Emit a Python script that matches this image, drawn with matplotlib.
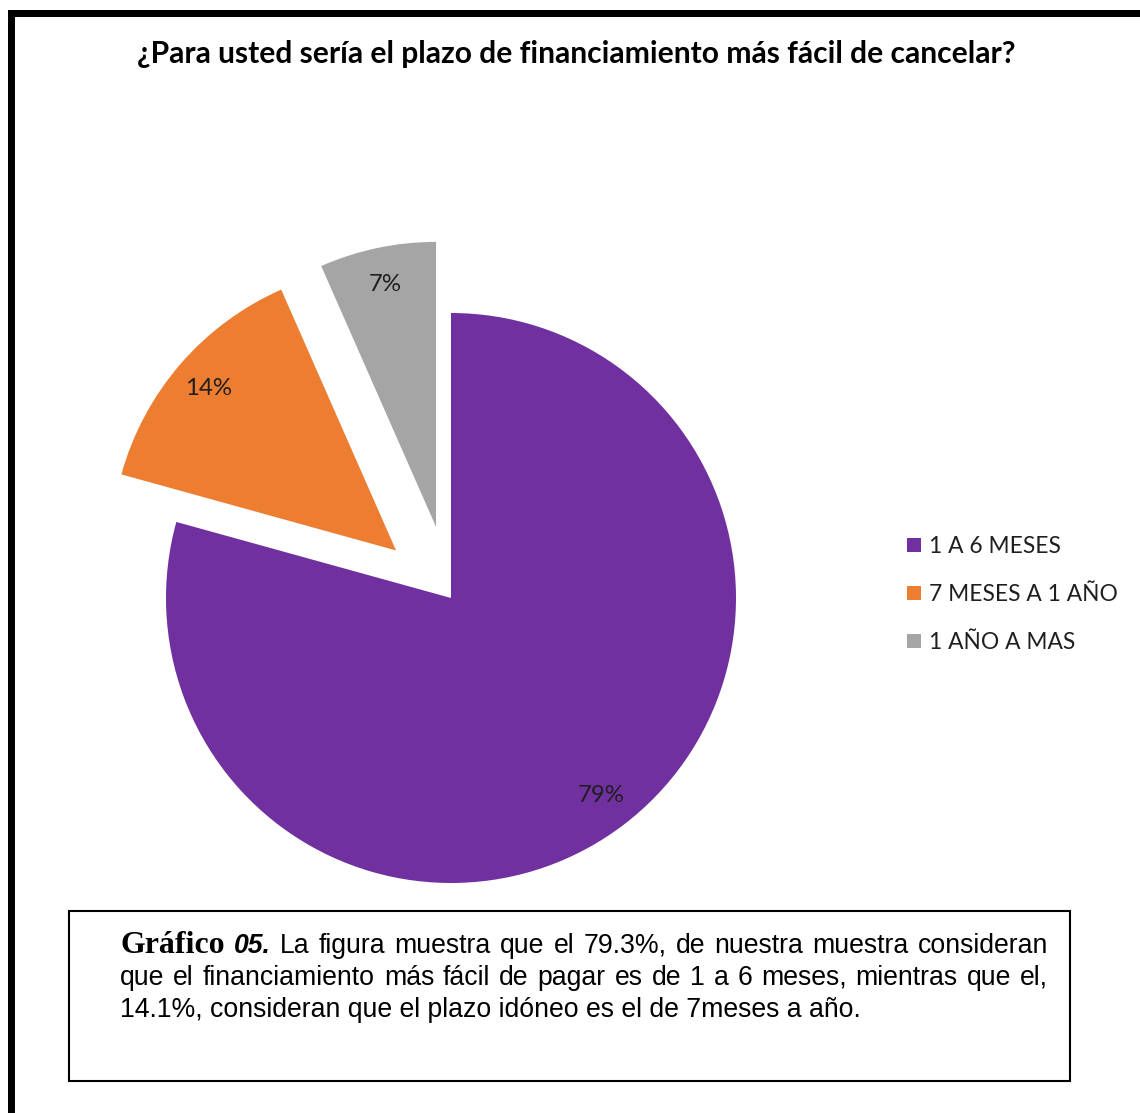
import matplotlib
matplotlib.use('Agg')
from matplotlib import pyplot as plt
from matplotlib.patches import Rectangle

# chart data
title = '¿Para usted sería el plazo de financiamiento más fácil de cancelar?'
categories = ['1 A 6 MESES', '7 MESES A 1 AÑO', '1 AÑO A MAS']
shares = [79.3, 14.1, 6.6]
colors = ['#7030A0', '#ED7D31', '#A5A5A5']
explode = [0, 0.255, 0.255]

caption_head = 'Gráfico'
caption_num = '05.'
caption_lines = [
    'La figura muestra que el 79.3%, de nuestra muestra consideran',
    'que el financiamiento más fácil de pagar es de 1 a 6 meses, mientras que el,',
    '14.1%, consideran que el plazo idóneo es el de 7meses a año.',
]

W, H = 1140, 1113
fig = plt.figure(figsize=(W / 100, H / 100), dpi=100)
renderer = fig.canvas.get_renderer()


def fx(x):
    return x / W


def fy(y):
    return 1 - y / H


def width_px(t):
    return t.get_window_extent(renderer).width


def fit(t, target):
    t.set_fontsize(t.get_fontsize() * target / width_px(t))
    return t.get_fontsize()


# frame lines (top and left)
fig.patches.append(Rectangle((fx(8), fy(17)), 1 - fx(8), fy(10) - fy(17),
                             transform=fig.transFigure, color='black', lw=0))
fig.patches.append(Rectangle((fx(8), 0), fx(15) - fx(8), fy(10),
                             transform=fig.transFigure, color='black', lw=0))

# title
t = fig.text(fx(576), fy(63), title, ha='center', va='baseline',
             family='Lato', weight='bold', size=20, color='black')
fit(t, 878)

# pie
cx, cy, r = 451, 598, 285
ax = fig.add_axes([0, 0, 1, 1])
wedges, texts, autotexts = ax.pie(shares, explode=explode, colors=colors,
                                  startangle=90, counterclock=False,
                                  autopct='%1.0f%%', pctdistance=0.87,
                                  wedgeprops=dict(linewidth=0),
                                  textprops=dict(family='Lato', size=17, color='#1f1f1f'))
ax.set_xlim(-cx / r, (W - cx) / r)
ax.set_ylim(-(H - cy) / r, cy / r)
ax.set_aspect('auto')
ax.axis('off')
psize = fit(autotexts[0], 47)
for a in autotexts:
    a.set_fontsize(psize)

# legend
probe = fig.text(0, 0, categories[1], family='Lato', size=16)
lsize = fit(probe, 188)
probe.remove()
fs = lsize * 100 / 72
leg = fig.legend(wedges, categories, loc='upper left',
                 bbox_to_anchor=(fx(907), fy(536)), frameon=False,
                 prop=dict(family='Lato', size=lsize),
                 handlelength=14 / fs, handleheight=13 / fs,
                 handletextpad=8 / fs, labelspacing=(54.5 - 1.2 * fs) / fs,
                 borderpad=0, borderaxespad=0)
for txt in leg.get_texts():
    txt.set_color('#1f1f1f')

# caption box
fig.patches.append(Rectangle((fx(69), fy(1081)), fx(1070) - fx(69), fy(911) - fy(1081),
                             transform=fig.transFigure, fill=False, ec='black', lw=1.5))

sans = dict(family='Liberation Sans', color='black')
probe = fig.text(0, 0, caption_lines[2], size=16, **sans)
csize = fit(probe, 741)
probe.remove()


def place_line(pieces, x0, x1, y):
    objs = [fig.text(0, fy(y), w, ha='left', va='baseline', **fd) for w, fd in pieces]
    widths = [width_px(o) for o in objs]
    gap = (x1 - x0 - sum(widths)) / (len(objs) - 1)
    x = x0
    for o, w in zip(objs, widths):
        o.set_x(fx(x))
        x += w + gap


body = dict(size=csize, **sans)
line1 = [(caption_head, dict(family='Liberation Serif', weight='bold', size=csize * 1.2, color='black')),
         (caption_num, dict(family='Liberation Sans', weight='bold', style='italic', size=csize, color='black'))]
line1 += [(w, body) for w in caption_lines[0].split()]
place_line(line1, 120, 1048, 953)
place_line([(w, body) for w in caption_lines[1].split()], 120, 1048, 985)
fig.text(fx(120), fy(1017), caption_lines[2], ha='left', va='baseline', **body)

fig.savefig('out.png', dpi=100)
